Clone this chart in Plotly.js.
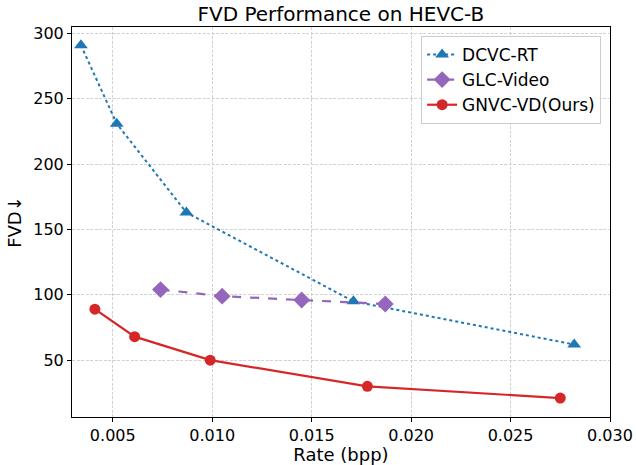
<!DOCTYPE html>
<html>
<head>
<meta charset="utf-8">
<script src="https://cdn.plot.ly/plotly-3.0.1.min.js"></script>
<style>html,body{margin:0;padding:0;background:#fff;}#chart{width:636px;height:465px;}</style>
</head>
<body>
<div id="chart"></div>
<script>
const dcvcRate = [0.0034, 0.0052, 0.0087, 0.0171, 0.0282];
const dcvcFvd  = [291, 231, 163, 95, 62];
const glcRate  = [0.0074, 0.0105, 0.0145, 0.0187];
const glcFvd   = [104, 99, 96, 93];
const gnvcRate = [0.0041, 0.0061, 0.0099, 0.0178, 0.0275];
const gnvcFvd  = [89, 68, 50, 30, 21];
const xTicks = [0.005, 0.010, 0.015, 0.020, 0.025, 0.030];
const yTicks = [50, 100, 150, 200, 250, 300];

const font = "DejaVu Sans, sans-serif";
const traces = [
  {x: dcvcRate, y: dcvcFvd, name: "DCVC-RT", mode: "lines+markers",
   line: {color: "#1f77b4", width: 2, dash: "dot"},
   marker: {symbol: "triangle-up", size: 12, color: "#1f77b4"}},
  {x: glcRate, y: glcFvd, name: "GLC-Video", mode: "lines+markers",
   line: {color: "#9467bd", width: 2.2, dash: "dash"},
   marker: {symbol: "diamond", size: 13, color: "#9467bd"}},
  {x: gnvcRate, y: gnvcFvd, name: "GNVC-VD(Ours)", mode: "lines+markers",
   line: {color: "#d62728", width: 2.2},
   marker: {symbol: "circle", size: 11, color: "#d62728"}}
];
const axisCommon = {
  showline: true, mirror: true, linecolor: "#000", linewidth: 1,
  ticks: "outside", ticklen: 4, tickcolor: "#000", tickwidth: 1,
  showgrid: true, gridcolor: "#d2d2d2", griddash: "3px,1.5px", gridwidth: 1,
  zeroline: false, tickfont: {family: font, size: 16, color: "#000"}
};
const layout = {
  width: 636, height: 465,
  margin: {l: 72, r: 26, t: 27, b: 48},
  paper_bgcolor: "#fff", plot_bgcolor: "#fff",
  title: {text: "FVD Performance on HEVC-B", font: {family: font, size: 20, color: "#000"},
          x: 0.536, xanchor: "center", y: 0.9705, yanchor: "middle"},
  xaxis: Object.assign({}, axisCommon, {
    range: [0.00295, 0.030], tickvals: xTicks, tickformat: ".3f",
    title: {text: "Rate (bpp)", font: {family: font, size: 18, color: "#000"}, standoff: 3}
  }),
  yaxis: Object.assign({}, axisCommon, {
    range: [6.5, 305], tickvals: yTicks,
    title: {text: "FVD↓", font: {family: font, size: 18, color: "#000"}, standoff: 6}
  }),
  showlegend: true,
  legend: {x: 0.9835, y: 0.977, xanchor: "right", yanchor: "top",
           bgcolor: "rgba(255,255,255,0.85)", bordercolor: "#cccccc", borderwidth: 1,
           font: {family: font, size: 17, color: "#000"}, tracegroupgap: 0}
};
Plotly.newPlot("chart", traces, layout, {displayModeBar: false, staticPlot: true});
</script>
</body>
</html>
